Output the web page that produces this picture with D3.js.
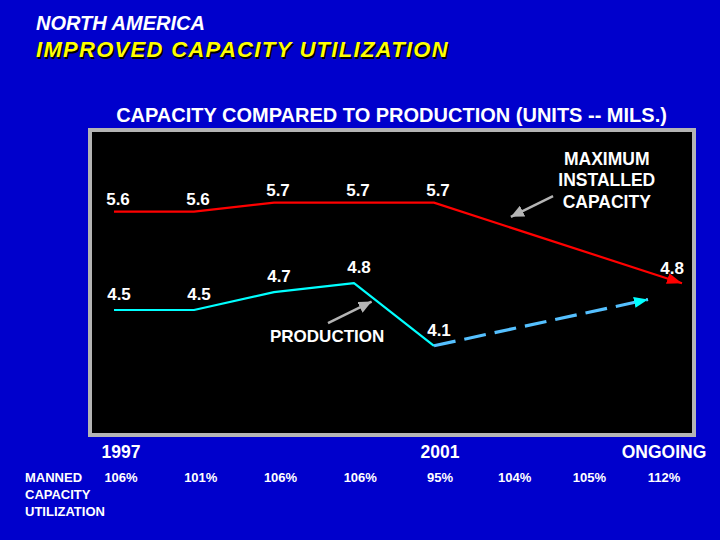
<!DOCTYPE html>
<html>
<head>
<meta charset="utf-8">
<script src="https://cdn.jsdelivr.net/npm/d3@7"></script>
<style>
  html, body { margin: 0; padding: 0; background: #0000cc; }
  svg { display: block; }
  text { font-family: "Liberation Sans", Arial, Helvetica, sans-serif; font-weight: bold; }
</style>
</head>
<body>
<svg id="chart" width="720" height="540"></svg>
<script>
// ---------- data ----------
const titleTop = "NORTH AMERICA";
const titleMain = "IMPROVED CAPACITY UTILIZATION";
const subtitle = "CAPACITY COMPARED TO PRODUCTION (UNITS -- MILS.)";

const years = [1997, 1998, 1999, 2000, 2001, 2002, 2003, 2004];
const yearLabels = ["1997", "", "", "", "2001", "", "", "ONGOING"];
const utilization = ["106%", "101%", "106%", "106%", "95%", "104%", "105%", "112%"];
const utilizationTitle = ["MANNED", "CAPACITY", "UTILIZATION"];

const capacityYears = [1997, 1998, 1999, 2000, 2001, 2004];
const capacityValues = [5.6, 5.6, 5.7, 5.7, 5.7, 4.8];

const productionYears = [1997, 1998, 1999, 2000, 2001];
const productionValues = [4.5, 4.5, 4.7, 4.8, 4.1];

const projectionYears = [2001, 2004];
const projectionValues = [4.1, 4.7];

const capacityNote = ["MAXIMUM", "INSTALLED", "CAPACITY"];
const productionNote = "PRODUCTION";

// ---------- scales ----------
const svg = d3.select("#chart");
const x = d3.scaleLinear().domain([1997, 2001, 2004]).range([114, 434, 682]);
const y = d3.scaleLinear().domain([3.5, 6.0]).range([399.4, 175.9]);
const xRow = d3.scaleLinear().domain([1997, 2001, 2004]).range([121, 440, 664]);

const RED = "#ff0000", CYAN = "#00ffff", DASH = "#55c0ff", GRAY = "#b4b4b4";

// ---------- titles ----------
svg.append("text").attr("x", 36).attr("y", 30)
  .attr("font-size", 20).attr("font-style", "italic").attr("fill", "#ffffff")
  .text(titleTop);
svg.append("text").attr("x", 37.5).attr("y", 58.5)
  .attr("font-size", 22).attr("font-style", "italic").attr("fill", "#000000")
  .attr("letter-spacing", 1.3).text(titleMain);
svg.append("text").attr("x", 36).attr("y", 57)
  .attr("font-size", 22).attr("font-style", "italic").attr("fill", "#ffff00")
  .attr("letter-spacing", 1.3).text(titleMain);

svg.append("text").attr("x", 391.5).attr("y", 122)
  .attr("text-anchor", "middle").attr("font-size", 20).attr("fill", "#ffffff")
  .text(subtitle);

// ---------- frame ----------
svg.append("rect").attr("x", 90).attr("y", 130).attr("width", 604).attr("height", 305)
  .attr("fill", "#000000").attr("stroke", GRAY).attr("stroke-width", 4);

// ---------- markers ----------
const defs = svg.append("defs");
function marker(id, color, len, half) {
  defs.append("marker").attr("id", id)
    .attr("viewBox", `0 ${-half} ${len} ${2 * half}`)
    .attr("refX", len).attr("refY", 0)
    .attr("markerWidth", len).attr("markerHeight", 2 * half)
    .attr("markerUnits", "userSpaceOnUse").attr("orient", "auto")
    .append("path").attr("d", `M0,${-half}L${len},0L0,${half}Z`).attr("fill", color);
}
marker("arrRed", RED, 15, 5.5);
marker("arrCyan", CYAN, 14, 5.5);
marker("arrGray", GRAY, 13, 6);

// ---------- lines ----------
const line = d3.line().x(d => x(d[0])).y(d => y(d[1]));

const capData = capacityYears.map((yr, i) => [yr, capacityValues[i]]);
const prodData = productionYears.map((yr, i) => [yr, productionValues[i]]);
const projData = projectionYears.map((yr, i) => [yr, projectionValues[i]]);

svg.append("path").attr("d", line(capData)).attr("fill", "none")
  .attr("stroke", RED).attr("stroke-width", 2.2).attr("marker-end", "url(#arrRed)");

svg.append("path").attr("d", line(prodData)).attr("fill", "none")
  .attr("stroke", CYAN).attr("stroke-width", 2.2).attr("stroke-linejoin", "round");

// projection: dashed, stopping short of the ongoing position
const p0 = [x(projData[0][0]), y(projData[0][1])];
const p1 = [x(projData[1][0]), y(projData[1][1])];
const pe = d3.interpolate(p0, p1)(0.863);
svg.append("path").attr("d", `M${p0[0]},${p0[1]}L${pe[0]},${pe[1]}`)
  .attr("fill", "none").attr("stroke", DASH).attr("stroke-width", 3.2)
  .attr("stroke-dasharray", "22,9").attr("marker-end", "url(#arrCyan)");

// ---------- value labels ----------
const lblSize = 17;
svg.selectAll("text.cap").data(capData).enter().append("text")
  .attr("class", "cap")
  .attr("x", (d, i) => i === capData.length - 1 ? x(d[0]) + 2 : x(d[0]) + 4)
  .attr("y", (d, i) => y(d[1]) - (i === capData.length - 1 ? 9 : 7))
  .attr("text-anchor", (d, i) => i === capData.length - 1 ? "end" : "middle")
  .attr("font-size", lblSize).attr("fill", "#ffffff")
  .text(d => d3.format(".1f")(d[1]));

svg.selectAll("text.prod").data(prodData).enter().append("text")
  .attr("class", "prod")
  .attr("x", d => x(d[0]) + 5)
  .attr("y", d => y(d[1]) - 10)
  .attr("text-anchor", "middle")
  .attr("font-size", lblSize).attr("fill", "#ffffff")
  .text(d => d3.format(".1f")(d[1]));

// ---------- annotations ----------
const capNoteX = x(2003.09);
capacityNote.forEach((t, i) => {
  svg.append("text").attr("x", capNoteX).attr("y", y(6.122) + i * 21.5)
    .attr("text-anchor", "middle").attr("font-size", 17.5).attr("fill", "#ffffff").text(t);
});
svg.append("line")
  .attr("x1", x(2002.44)).attr("y1", y(5.775))
  .attr("x2", x(2001.93)).attr("y2", y(5.543))
  .attr("stroke", GRAY).attr("stroke-width", 2.5).attr("marker-end", "url(#arrGray)");

svg.append("text").attr("x", x(1998.95)).attr("y", y(4.146))
  .attr("font-size", 17).attr("fill", "#ffffff").text(productionNote);
svg.append("line")
  .attr("x1", x(1999.675)).attr("y1", y(4.354))
  .attr("x2", x(2000.22)).attr("y2", y(4.594))
  .attr("stroke", GRAY).attr("stroke-width", 2.5).attr("marker-end", "url(#arrGray)");

// ---------- bottom rows ----------
svg.selectAll("text.year").data(years).enter().append("text")
  .attr("class", "year")
  .attr("x", d => xRow(d)).attr("y", 458)
  .attr("text-anchor", "middle").attr("font-size", 17.5).attr("fill", "#ffffff")
  .text((d, i) => yearLabels[i]);

svg.selectAll("text.util").data(years).enter().append("text")
  .attr("class", "util")
  .attr("x", d => xRow(d)).attr("y", 482)
  .attr("text-anchor", "middle").attr("font-size", 13).attr("fill", "#ffffff")
  .text((d, i) => utilization[i]);

utilizationTitle.forEach((t, i) => {
  svg.append("text").attr("x", 25).attr("y", 482 + i * 17)
    .attr("font-size", 13).attr("fill", "#ffffff").text(t);
});
</script>
</body>
</html>
